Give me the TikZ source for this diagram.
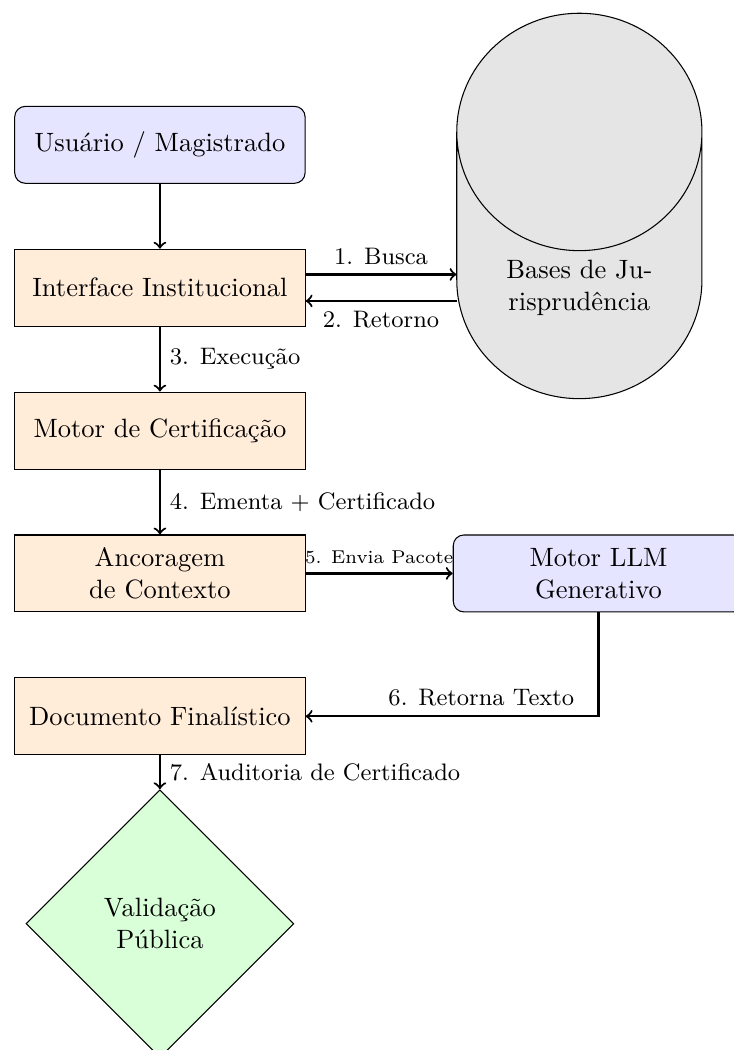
\documentclass[tikz,border=0pt]{standalone}
\usetikzlibrary{shapes.geometric,positioning}
\tikzstyle{actor} = [rectangle, rounded corners, minimum width=3.85cm, minimum height=1.02cm, text centered, align=center, draw=black, fill=blue!10]
\tikzstyle{process} = [rectangle, minimum width=3.85cm, minimum height=1.02cm, text centered, align=center, draw=black, fill=orange!15]
\tikzstyle{database} = [cylinder, shape border rotate=90, aspect=1.45, minimum width=3.25cm, align=center, draw=black, fill=gray!20]
\tikzstyle{decision} = [diamond, aspect=1, minimum width=3.55cm, minimum height=3.55cm, inner sep=0pt, align=center, draw=black, fill=green!15]
\tikzstyle{arrow} = [thick, ->]
\tikzstyle{note} = [font=\small]

\begin{document}
\begin{tikzpicture}[node distance=0.86cm]
    \useasboundingbox (-2.12,1.92) rectangle (7.60,-12.0);

    \node(user)[actor]{Usuário / Magistrado};
    \node(interface)[process, below=of user]{Interface Institucional};
    \node(bases)[database, right=2cm of interface]{Bases de Ju-\\risprudência};
    \node(motor)[process, below=of interface]{Motor de Certificação};
    \node(ancoragem)[process, below=of motor]{Ancoragem\\de Contexto};
    \node(llm)[actor, right=1.95cm of ancoragem]{Motor LLM\\Generativo};
    \node(doc)[process, below=of ancoragem]{Documento Finalístico};
    \node(valid)[decision, below=0.45cm of doc]{Validação\\Pública};

    \draw[arrow] (user) -- (interface);
    \draw[arrow] ([yshift=5pt]interface.east) -- ([yshift=5pt]interface.east -| bases.west) node[note, midway, above]{1. Busca};
    \draw[arrow] ([yshift=-5pt]interface.east -| bases.west) -- ([yshift=-5pt]interface.east) node[note, midway, below]{2. Retorno};
    \draw[arrow] (interface) -- node[note, right]{3. Execução} (motor);
    \draw[arrow] (motor) -- node[note, right]{4. Ementa + Certificado} (ancoragem);
    \draw[arrow] (ancoragem) -- node[above, font=\scriptsize]{5. Envia Pacote} (llm);
    \draw[arrow] (llm.south) |- node[note, above, pos=0.7]{6. Retorna Texto} (doc.east);
    \draw[arrow] (doc) -- node[note, right]{7. Auditoria de Certificado} (valid);

\end{tikzpicture}
\end{document}
